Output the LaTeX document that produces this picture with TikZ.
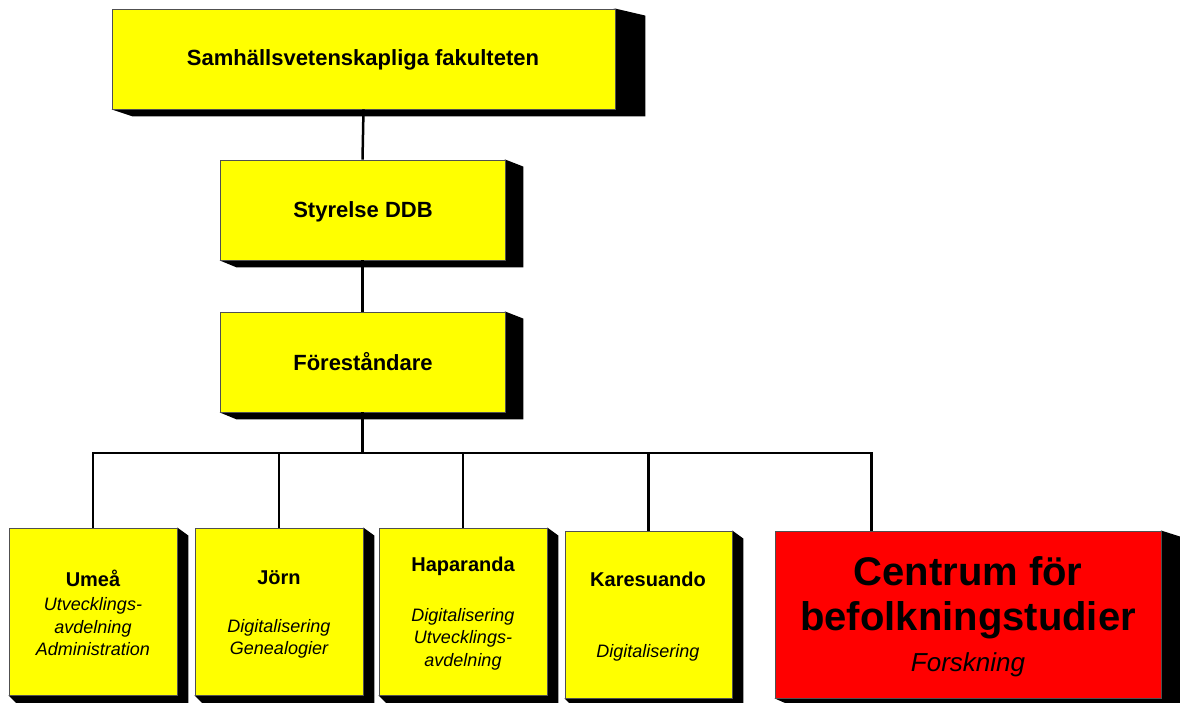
\documentclass[tikz,border=0pt]{standalone}
\usepackage{fontspec}
\setmainfont{Liberation Sans}
\usetikzlibrary{calc}
\pgfdeclarelayer{bg}
\pgfsetlayers{bg,main}
\definecolor{boxyellow}{RGB}{255,255,0}
\definecolor{boxred}{RGB}{255,0,0}
\definecolor{boxline}{RGB}{80,80,80}
\begin{document}
\begin{tikzpicture}[x=1pt,y=-1pt,
  box/.style={draw=boxline, line width=0.8pt, fill=boxyellow, inner sep=0pt},
  redbox/.style={box, fill=boxred},
  link/.style={line width=2.5pt, black, line join=miter},
  ttl/.style={font=\bfseries\fontsize{22}{26}\selectfont, inner sep=0pt},
  sttl/.style={font=\bfseries\fontsize{20}{24}\selectfont, inner sep=0pt},
  sub/.style={font=\itshape\fontsize{18}{22.5}\selectfont, align=center, inner sep=0pt},
  big/.style={font=\bfseries\fontsize{40}{45}\selectfont, align=center, inner sep=0pt},
  bigsub/.style={font=\itshape\fontsize{26}{30}\selectfont, inner sep=0pt},
]
\useasboundingbox (0,0) rectangle (1180,702);

% boxes
\node[box, minimum width=503pt, minimum height=100pt] (top) at (363.5,59) {};
\node[box, minimum width=285pt, minimum height=100pt] (sty) at (362.5,210) {};
\node[box, minimum width=285pt, minimum height=100pt] (for) at (362.5,362) {};
\node[box, minimum width=168pt, minimum height=167pt] (ume) at (93,611.5) {};
\node[box, minimum width=168pt, minimum height=167pt] (jor) at (279,611.5) {};
\node[box, minimum width=168pt, minimum height=167pt] (hap) at (463,611.5) {};
\node[box, minimum width=167pt, minimum height=167pt] (kar) at (648.5,614.5) {};
\node[redbox, minimum width=386pt, minimum height=167pt] (cen) at (968,614.5) {};

% shadows (3D extrusion): node / left offset / right offset / vertical offset
\begin{pgfonlayer}{bg}
\foreach \n/\dl/\dr/\dy in {top/21/30/7, sty/17/18/7, for/17/18/7, ume/8/11/8, jor/8/11/8, hap/8/11/8, kar/8/11/8, cen/16/22/7}{
  \fill[black] (\n.north east) -- ++(\dr,\dy) -- ($(\n.south east)+(\dr,\dy)$)
     -- ($(\n.south west)+(\dl,\dy)$) -- (\n.south west) -- cycle;
}
\end{pgfonlayer}

% texts
\node[ttl] (topT) at (363,60) {Samhällsvetenskapliga fakulteten};
\node[ttl] (styT) at (363,212) {Styrelse DDB};
\node[ttl] (forT) at (363,362) {Föreståndare};

\node[sttl] (umeT) at (93,578) {Umeå};
\node[sub] (umeS) at (93,627) {Utvecklings-\\avdelning\\Administration};
\node[sttl] (jorT) at (279,578) {Jörn};
\node[sub] (jorS) at (279,639) {Digitalisering\\Genealogier};
\node[sttl] (hapT) at (463,566) {Haparanda};
\node[sub] (hapS) at (463,639) {Digitalisering\\Utvecklings-\\avdelning};
\node[sttl] (karT) at (648,579) {Karesuando};
\node[sub] (karS) at (648,653) {Digitalisering};
\node[big] (cenT) at (968,597.5) {Centrum för\\befolkningstudier};
\node[bigsub] (cenS) at (968,665) {Forskning};

% connectors
\coordinate (bus) at (363,453);
\coordinate (cenin) at ($(cen.north west)!0.25!(cen.north east)$);
\draw[link] (top.south) -- (sty.north);
\draw[link] (sty.south) -- (for.north);
\draw[link] (for.south) -- (for.south |- bus);
\draw[link] (ume.north) -- (ume.north |- bus) -- (cenin |- bus) -- (cenin);
\draw[link] (jor.north) -- (jor.north |- bus);
\draw[link] (hap.north) -- (hap.north |- bus);
\draw[link] (kar.north) -- (kar.north |- bus);
\end{tikzpicture}
\end{document}
